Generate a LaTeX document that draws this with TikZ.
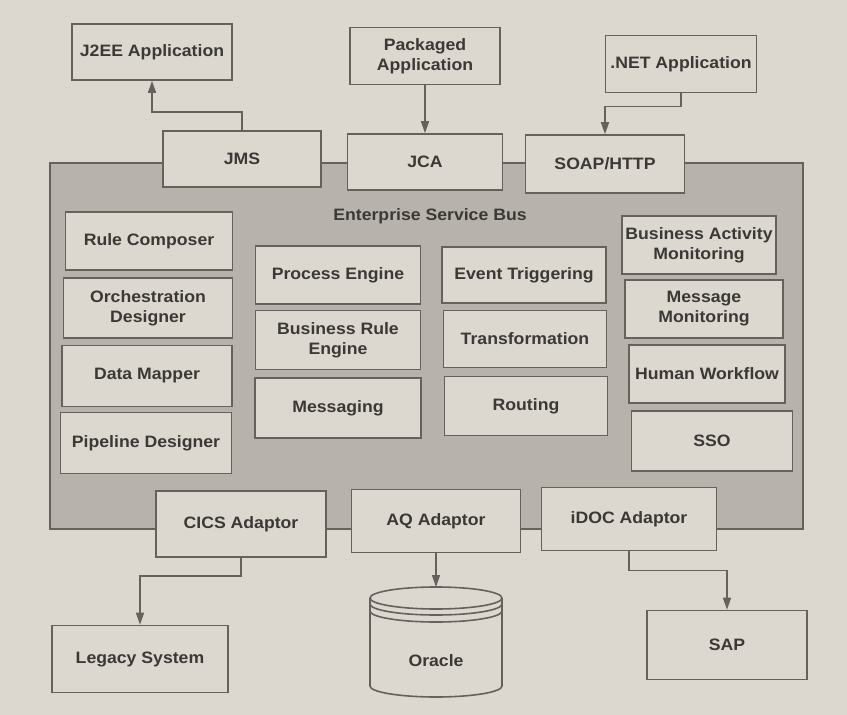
\documentclass[tikz,border=0pt]{standalone}
\usepackage{fontspec}
\setmainfont{Liberation Sans}[FakeStretch=1.07]
\usetikzlibrary{arrows.meta}
\definecolor{bg}{HTML}{DCD8D0}
\definecolor{esb}{HTML}{B7B3AC}
\definecolor{boxfill}{HTML}{DCD7CF}
\definecolor{ln}{HTML}{65615C}
\definecolor{txt}{HTML}{3B3936}
\tikzset{
  box/.style={draw=ln, fill=boxfill, line width=1.6pt, align=center, inner sep=2pt,
    font=\fontsize{16.5pt}{20pt}\selectfont\bfseries, text=txt},
  conn/.style={draw=ln, line width=1.5pt, -{Triangle[length=12pt,width=8pt]}},
}
\begin{document}
\begin{tikzpicture}[x=1pt,y=-1pt]
\fill[bg] (0,0) rectangle (847,715);
\useasboundingbox (0,0) rectangle (847,715);

% ESB container
\draw[draw=ln, fill=esb, line width=1.6pt] (50,163) rectangle (803,529);
\node[font=\fontsize{16.5pt}{19pt}\selectfont\bfseries, text=txt] (esblabel) at (430,216) {Enterprise Service Bus};

% top applications
\node[box, minimum width=160pt, minimum height=56pt] (j2ee) at (152,52) {J2EE Application};
\node[box, minimum width=150pt, minimum height=57pt] (pack) at (425,56) {Packaged\\Application};
\node[box, minimum width=151pt, minimum height=57pt] (net) at (681,64) {.NET Application};

% top connectors
\node[box, minimum width=158pt, minimum height=56pt] (jms) at (242,159) {JMS};
\node[box, minimum width=155pt, minimum height=56pt] (jca) at (425,162) {JCA};
\node[box, minimum width=159pt, minimum height=58pt] (soap) at (605,164) {SOAP/HTTP};

% left column
\node[box, minimum width=167pt, minimum height=58pt] (rc) at (149,241) {Rule Composer};
\node[box, minimum width=169pt, minimum height=60pt] (od) at (148,308) {Orchestration\\Designer};
\node[box, minimum width=170pt, minimum height=61pt] (dm) at (147,376) {Data Mapper};
\node[box, minimum width=171pt, minimum height=61pt] (pd) at (146,443) {Pipeline Designer};

% centre-left column
\node[box, minimum width=165pt, minimum height=58pt] (pe) at (338,275) {Process Engine};
\node[box, minimum width=165pt, minimum height=59pt] (bre) at (338,340) {Business Rule\\Engine};
\node[box, minimum width=166pt, minimum height=60pt] (msg) at (338,408) {Messaging};

% centre-right column
\node[box, minimum width=164pt, minimum height=56pt] (et) at (524,275) {Event Triggering};
\node[box, minimum width=163pt, minimum height=57pt] (tr) at (525,339) {Transformation};
\node[box, minimum width=163pt, minimum height=59pt] (rt) at (526,406) {Routing};

% right column
\node[box, minimum width=154pt, minimum height=58pt] (bam) at (699,245) {Business Activity\\Monitoring};
\node[box, minimum width=158pt, minimum height=58pt] (mm) at (704,309) {Message\\Monitoring};
\node[box, minimum width=156pt, minimum height=58pt] (hw) at (707,374) {Human Workflow};
\node[box, minimum width=161pt, minimum height=60pt] (sso) at (712,441) {SSO};

% bottom adaptors
\node[box, minimum width=170pt, minimum height=66pt] (cics) at (241,524) {CICS Adaptor};
\node[box, minimum width=169pt, minimum height=63pt] (aq) at (436,521) {AQ Adaptor};
\node[box, minimum width=175pt, minimum height=63pt] (idoc) at (629,519) {iDOC Adaptor};

% back-end systems
\node[box, minimum width=176pt, minimum height=67pt] (legacy) at (140,659) {Legacy System};
\node[box, minimum width=160pt, minimum height=69pt] (sap) at (727,645) {SAP};

% Oracle cylinder
\fill[boxfill] (370,598) -- (370,686)
  arc[start angle=180, end angle=360, x radius=66pt, y radius=11pt] -- (502,598)
  arc[start angle=0, end angle=180, x radius=66pt, y radius=11pt] -- cycle;
\draw[ln, line width=1.6pt] (370,598) -- (370,686)
  arc[start angle=180, end angle=360, x radius=66pt, y radius=11pt] -- (502,598);
\draw[ln, line width=1.6pt] (436,598) ellipse [x radius=66pt, y radius=11pt];
\draw[ln, line width=1.6pt] (370,604) arc[start angle=180, end angle=360, x radius=66pt, y radius=11pt];
\draw[ln, line width=1.6pt] (370,611) arc[start angle=180, end angle=360, x radius=66pt, y radius=11pt];
\coordinate (oratop) at (436,587);
\node[font=\fontsize{16.5pt}{20pt}\selectfont\bfseries, text=txt] (oracle) at (436,661) {Oracle};

% arrows
\draw[conn] (jms.north) -- ++(0,-18) -| (j2ee.south);
\draw[conn] (pack.south) -- (jca.north);
\draw[conn] (net.south) -- ++(0,13) -| (soap.north);
\draw[conn] (cics.south) -- ++(0,18) -| (legacy.north);
\draw[conn] (aq.south) -- (oratop);
\draw[conn] (idoc.south) -- ++(0,19) -| (sap.north);
\end{tikzpicture}
\end{document}
